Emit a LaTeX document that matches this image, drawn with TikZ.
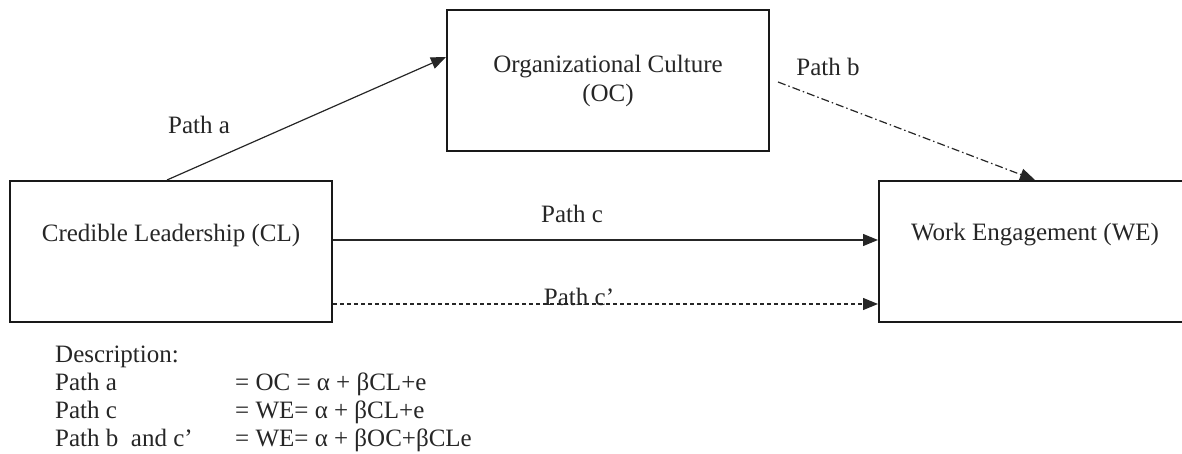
\documentclass[tikz,border=0pt]{standalone}
\usepackage{fontspec}
\setmainfont{Liberation Serif}
\usetikzlibrary{arrows.meta,positioning}
\begin{document}
\begin{tikzpicture}[x=1pt,y=1pt,
  every node/.style={font=\fontsize{25}{30}\selectfont, text=black!85},
  box/.style={draw=black!90, line width=2pt, minimum width=322pt, minimum height=141pt, inner sep=0pt},
  conn/.style={line width=1.2pt, draw=black!85, -{Triangle[length=15pt,width=12pt]}},
  txt/.style={inner sep=0pt, anchor=base west}
]
\useasboundingbox (0,0) rectangle (1182,454);
\node[box] (OC) at (608,373.5) {};
\node[box] (CL) at (171,202.5) {};
\node[box, minimum width=312pt] (WE) at (1035,202.5) {};
\node[align=center, font=\fontsize{25}{29}\selectfont] (OCt) at (OC.center) {Organizational Culture\\(OC)};
\node (CLt) at ([yshift=16.5pt]CL.center) {Credible Leadership (CL)};
\node (WEt) at ([yshift=16.5pt]WE.center) {Work Engagement (WE)};

\draw[conn] ([xshift=-4pt]CL.north) -- ([yshift=23.5pt]OC.west);
\draw[conn, dash pattern=on 8pt off 3pt on 1.5pt off 3pt] ([xshift=8pt,yshift=-1.5pt]OC.east) -- (WE.north);
\draw[conn] ([yshift=11.5pt]CL.east) -- ([yshift=11.5pt]WE.west);
\draw[conn, dash pattern=on 4pt off 3pt] ([yshift=-52.5pt]CL.east) -- ([yshift=-52.5pt]WE.west);

\node (la) at (199,329) {Path a};
\node (lb) at (828,387) {Path b};
\node (lc) at (572,240) {Path c};
\node (lcp) at (579,157) {Path c’};

\node[txt] (d0) at (55,91) {Description:};
\node[txt] (d1) at (55,63) {Path a};
\node[txt] (d2) at (55,35) {Path c};
\node[txt] (d3) at (55,7) {Path b\ \ and c’};
\node[txt] (e1) at (235,63) {= OC = α + βCL+e};
\node[txt] (e2) at (235,35) {= WE= α + βCL+e};
\node[txt] (e3) at (235,7) {= WE= α + βOC+βCLe};
\end{tikzpicture}
\end{document}
